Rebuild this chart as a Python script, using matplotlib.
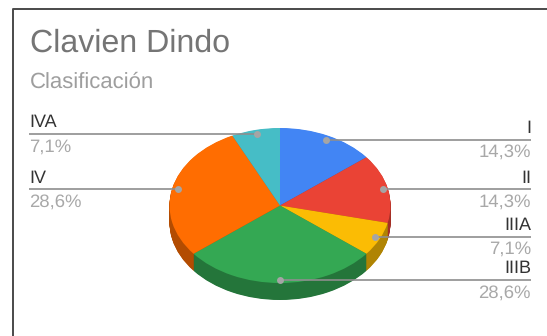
import matplotlib.pyplot as plt

plt.rcParams["font.family"] = ["Liberation Sans", "DejaVu Sans"]
plt.rcParams["text.hinting"] = "none"

labels = ["I", "II", "IIIA", "IIIB", "IV", "IVA"]
values = [14.3, 14.3, 7.1, 28.6, 28.6, 7.1]
colors = ["#4285f4", "#ea4335", "#fbbc04", "#34a853", "#ff6d01", "#46bdc6"]
dark_colors = ["#2e5dab", "#a42f25", "#b08403", "#24753a", "#b34c01", "#31848a"]

W, H = 547, 336
CX, CY, RX, RY = 280, 205.5, 110.5, 77.5
DEPTH = 17

fig = plt.figure(figsize=(W / 100, H / 100), dpi=100)

# page layer in pixel coordinates
page = fig.add_axes([0, 0, 1, 1])
page.set_xlim(0, W)
page.set_ylim(H, 0)
page.axis("off")
page.plot([12.5, 12.5, W], [H, 9, 9], color="#4a4a4a", lw=1.4, solid_capstyle="butt")

page.text(29.5, 51.5, "Clavien Dindo", fontsize=23.1, color="#757575", va="baseline")
page.text(29.5, 88, "Clasificación", fontsize=15.9, color="#9e9e9e", va="baseline")

# squashed axes turn the circular pie into an ellipse
pie_ax = fig.add_axes([(CX - RX) / W, (H - CY - RY) / H, 2 * RX / W, 2 * RY / H], zorder=1)
pie_ax.patch.set_alpha(0)
depth = DEPTH / RY
for k in range(DEPTH * 2, 0, -1):
    pie_ax.pie(values, colors=dark_colors, startangle=90, counterclock=False,
               center=(0, -depth * k / (DEPTH * 2)), radius=1,
               wedgeprops=dict(clip_on=False, lw=0))
pie_ax.pie(values, colors=colors, startangle=90, counterclock=False,
           center=(0, 0), radius=1, wedgeprops=dict(clip_on=False, lw=0))
pie_ax.set_aspect("auto")
pie_ax.set_xlim(-1, 1)
pie_ax.set_ylim(-1, 1)

# leaders and labels on top of the pie
over = fig.add_axes([0, 0, 1, 1], zorder=2)
over.set_xlim(0, W)
over.set_ylim(H, 0)
over.axis("off")

line_color = "#8e8e8e"
leaders = {
    "I": (326, 139.5, 531, 133, 157),
    "II": (382.5, 189, 531, 183, 207),
    "IIIA": (374.5, 236.5, 531, 230, 254),
    "IIIB": (280, 279.5, 531, 273, 298),
    "IV": (177.5, 189, 29, 183, 207),
    "IVA": (256.5, 133.5, 29, 127, 152),
}
for name, val in zip(labels, values):
    x0, y0, x1, y_name, y_pct = leaders[name]
    over.plot([x0, x1], [y0, y0], color=line_color, lw=1.2, solid_capstyle="butt")
    over.plot([x0], [y0], "o", ms=5, color="#a5a5a5", mew=0)
    ha = "right" if x1 > x0 else "left"
    over.text(x1, y_name, name, fontsize=13, color="#333333", ha=ha, va="baseline")
    pct = f"{val:.1f}%".replace(".", ",")
    over.text(x1, y_pct, pct, fontsize=13.3, color="#a8a8a8", ha=ha, va="baseline")

fig.savefig("out.png", dpi=100)
